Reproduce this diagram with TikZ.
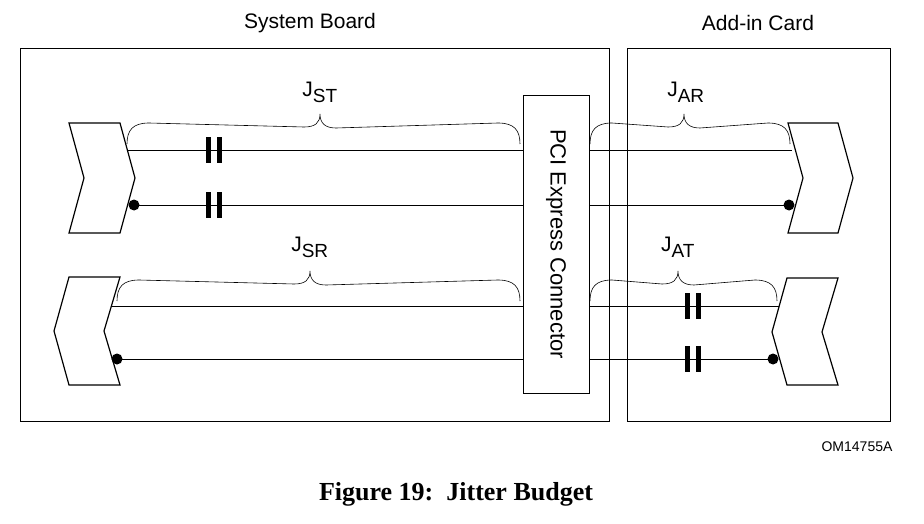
\documentclass[tikz,border=0pt]{standalone}
\usepackage{fontspec}
\setmainfont{Liberation Sans}
\newfontfamily\serifb{Liberation Serif}
\begin{document}
\begin{tikzpicture}[x=1pt,y=-1pt,
  box/.style={draw,line width=0.9pt},
  chev/.style={draw,line width=1.2pt,fill=white},
  wire/.style={line width=0.7pt},
  dot/.style={circle,fill=black,inner sep=0pt,minimum size=11pt},
  lbl/.style={font=\fontsize{21}{24}\selectfont},
  br/.style={line width=0.6pt}]
\useasboundingbox (0,0) rectangle (924,524);
\newcommand\jbrace[4]{% xa xb tip y0
  \draw[br] (#1,#4) .. controls (#1,#4-14) and (#1+6,#4-21) .. (#1+22,#4-21)
    -- (#3-16,#4-17) .. controls (#3-5,#4-17) and (#3,#4-21) .. (#3,#4-30)
    .. controls (#3,#4-21) and (#3+5,#4-16) .. (#3+16,#4-16)
    -- (#2-22,#4-21) .. controls (#2-6,#4-21) and (#2,#4-14) .. (#2,#4);}
\newcommand\mycapa[2]{\fill (#1-8,#2-13) rectangle (#1-3,#2+13); \fill (#1+3,#2-13) rectangle (#1+8,#2+13);}
\node[box,minimum width=589pt,minimum height=373pt,anchor=north west] (sb) at (20,48) {};
\node[box,minimum width=263pt,minimum height=373pt,anchor=north west] (ac) at (627,48) {};
\node[lbl] (tsb) at (310,23) {System Board};
\node[lbl] (tac) at (758,23) {Add-in Card};
% wires
\coordinate (a1) at (127,150); \coordinate (a2) at (523,150);
\coordinate (b1) at (134,205); \coordinate (b2) at (523,205);
\coordinate (c1) at (110,306); \coordinate (c2) at (523,306);
\coordinate (d1) at (117,359); \coordinate (d2) at (523,359);
\coordinate (e1) at (589,150); \coordinate (e2) at (792,150);
\coordinate (f1) at (589,205); \coordinate (f2) at (789,205);
\coordinate (g1) at (589,306); \coordinate (g2) at (780,306);
\coordinate (h1) at (589,359); \coordinate (h2) at (773,359);
\foreach \p in {a,b,c,d,e,f,g,h} \draw[wire] (\p1) -- (\p2);
% chevrons
\draw[chev] (69,123) -- (120,123) -- (135,178) -- (120,233) -- (69,233) -- (84,178) -- cycle;
\draw[chev] (69,277) -- (120,277) -- (104,331) -- (120,385) -- (69,385) -- (54,331) -- cycle;
\draw[chev] (788,123) -- (838,123) -- (853,178) -- (838,233) -- (788,233) -- (803,178) -- cycle;
\draw[chev] (787,278) -- (838,278) -- (822,332) -- (838,385) -- (787,385) -- (772,332) -- cycle;
\node[dot] (db) at (b1) {}; \node[dot] (dd) at (d1) {};
\node[dot] (df) at (f2) {}; \node[dot] (dh) at (h2) {};
\mycapa{214}{150}\mycapa{214}{205}\mycapa{693}{306}\mycapa{693}{359}
% connector
\node[box,fill=white,minimum width=66pt,minimum height=298pt,anchor=north west] (pci) at (523,95) {};
\node[rotate=-90,font=\fontsize{22}{24}\selectfont] (pcit) at (556,244) {PCI Express Connector};
% braces
\jbrace{127}{520}{320}{144}
\jbrace{117}{520}{310}{301}
\jbrace{590}{790}{684}{144}
\jbrace{590}{777}{678}{301}
\node[lbl] (jst) at (320,92) {J\textsubscript{\fontsize{19}{19}\selectfont ST}};
\node[lbl] (jsr) at (310,247) {J\textsubscript{\fontsize{19}{19}\selectfont SR}};
\node[lbl] (jar) at (686,92) {J\textsubscript{\fontsize{19}{19}\selectfont AR}};
\node[lbl] (jat) at (678,247) {J\textsubscript{\fontsize{19}{19}\selectfont AT}};
\node[font=\fontsize{14}{16}\selectfont] (om) at (857,447) {OM14755A};
\node[font=\serifb\bfseries\fontsize{26}{30}\selectfont] (fig) at (456,494) {Figure 19:\ \ Jitter Budget};
\end{tikzpicture}
\end{document}
